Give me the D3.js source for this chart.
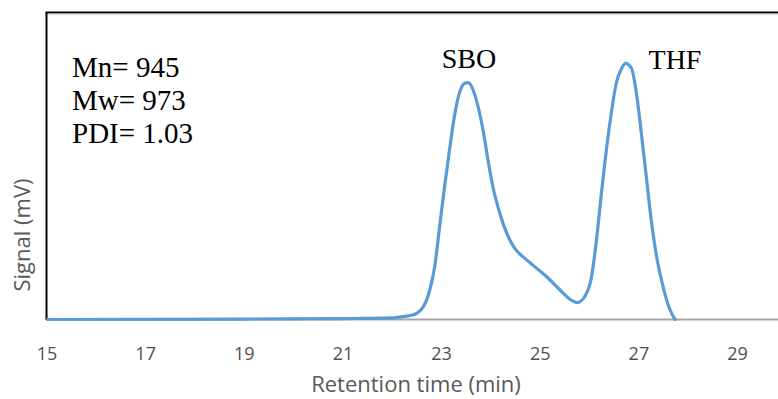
<!DOCTYPE html>
<html>
<head>
<meta charset="utf-8">
<script src="https://cdn.jsdelivr.net/npm/d3@7"></script>
<style>
  html, body { margin: 0; padding: 0; background: #fff; }
  svg { display: block; }
</style>
</head>
<body>
<svg id="chart" width="778" height="399"></svg>
<script>
// GPC trace: retention time (min) vs detector signal (mV, arbitrary scale)
const retentionTime = [15, 17, 19, 21, 22, 22.1, 22.43, 22.64, 22.77, 22.87, 22.97, 23.07, 23.18, 23.28, 23.38, 23.48, 23.55, 23.65, 23.75, 23.85, 23.95, 24.05, 24.19, 24.33, 24.49, 24.70, 24.86, 25.14, 25.41, 25.61, 25.76, 25.91, 26.05, 26.15, 26.25, 26.35, 26.45, 26.55, 26.66, 26.74, 26.86, 26.96, 27.06, 27.16, 27.26, 27.37, 27.50, 27.63, 27.76];
const signal = [0, 0.05, 0.15, 0.3, 0.5, 0.7, 1.5, 4.2, 9.6, 17.2, 30.2, 43.2, 56.3, 67.1, 74.2, 76.9, 77.1, 74.7, 69.3, 61.7, 51.9, 43.2, 34.6, 28.1, 23.2, 19.9, 17.7, 13.9, 9.6, 6.6, 5.5, 7.4, 13.9, 25.9, 41.1, 55.2, 67.1, 76.9, 81.8, 83.4, 81.8, 73.6, 60.6, 46.5, 32.4, 20.4, 10.7, 3.6, -0.4];
const xTicks = [15, 17, 19, 21, 23, 25, 27, 29];
const statsLines = ["Mn= 945", "Mw= 973", "PDI= 1.03"];
const peakLabels = ["SBO", "THF"];

const svg = d3.select("#chart");
const x = d3.scaleLinear().domain([15, 29.83]).range([46.5, 778]);
const y = d3.scaleLinear().domain([0, 100]).range([319.5, 12.3]);

// frame: top and left border lines
svg.append("line").attr("x1", 45.5).attr("x2", 778).attr("y1", 12.5).attr("y2", 12.5)
  .attr("stroke", "#000").attr("stroke-width", 2);
svg.append("line").attr("x1", 45.5).attr("x2", 778).attr("y1", 14).attr("y2", 14)
  .attr("stroke", "#bbb").attr("stroke-width", 1);
svg.append("line").attr("x1", 46.5).attr("x2", 46.5).attr("y1", 12).attr("y2", 320)
  .attr("stroke", "#000").attr("stroke-width", 2);

// x axis
const xAxis = d3.axisBottom(x).tickValues(xTicks).tickSize(0).tickPadding(0);
const gx = svg.append("g").attr("transform", `translate(0,${y(0)})`).call(xAxis);
gx.select(".domain").attr("stroke", "#a6a6a6").attr("stroke-width", 2)
  .attr("d", `M${x(15)},0H778`);
gx.selectAll(".tick text")
  .attr("dy", null).attr("y", 40)
  .attr("fill", "#505050")
  .style("font-family", "'Open Sans', sans-serif")
  .style("font-size", "18px");

// axis titles
svg.append("text").attr("x", 416).attr("y", 392).attr("text-anchor", "middle")
  .attr("fill", "#595959").style("font-family", "'Open Sans', sans-serif").style("font-size", "22px")
  .text("Retention time (min)");
svg.append("text").attr("transform", "translate(30,235) rotate(-90)").attr("text-anchor", "middle")
  .attr("fill", "#595959").style("font-family", "'Open Sans', sans-serif").style("font-size", "22px")
  .text("Signal (mV)");

// signal trace
const data = retentionTime.map((t, i) => ({ t, v: signal[i] }));
const line = d3.line().x(d => x(d.t)).y(d => y(d.v)).curve(d3.curveMonotoneX);
svg.append("path").datum(data).attr("d", line)
  .attr("fill", "none").attr("stroke", "#5b9bd5").attr("stroke-width", 3.2)
  .attr("stroke-linejoin", "round");

// molecular weight summary
svg.append("g").selectAll("text").data(statsLines).join("text")
  .attr("x", 72).attr("y", (d, i) => 77 + i * 33)
  .attr("fill", "#000").style("font-family", "'Liberation Serif', 'Times New Roman', serif")
  .style("font-size", "29px").text(d => d);

// peak labels
const peakPos = [[469, 67.5], [675, 68.5]];
svg.append("g").selectAll("text").data(peakLabels).join("text")
  .attr("x", (d, i) => peakPos[i][0]).attr("y", (d, i) => peakPos[i][1])
  .attr("text-anchor", "middle")
  .style("font-family", "'Liberation Serif', 'Times New Roman', serif").style("font-size", "28px")
  .text(d => d);
</script>
</body>
</html>
